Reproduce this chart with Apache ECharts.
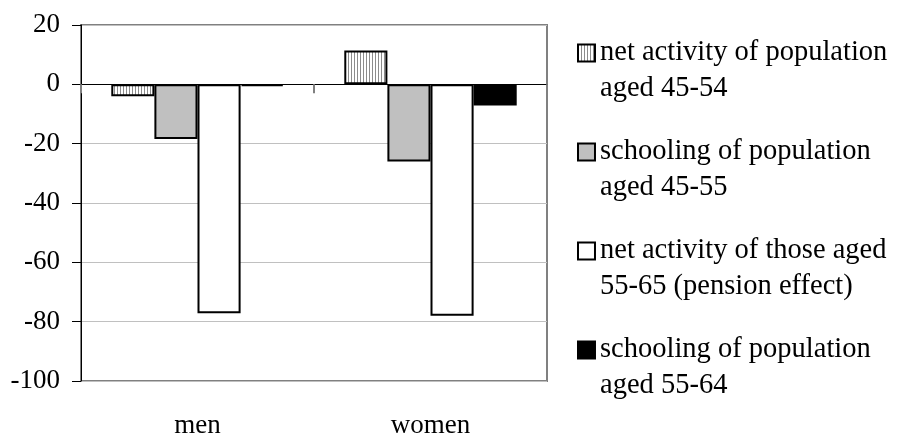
<!DOCTYPE html>
<html>
<head>
<meta charset="utf-8">
<script src="https://cdn.jsdelivr.net/npm/echarts@6/dist/echarts.min.js"></script>
<style>
html,body{margin:0;padding:0;background:#fff;}
#chart{width:903px;height:439px;}
</style>
</head>
<body>
<div id="chart"></div>
<script>
var categories = ['men', 'women'];
var seriesNames = [
  'net activity of population\naged 45-54',
  'schooling of population\naged 45-55',
  'net activity of those aged\n55-65 (pension effect)',
  'schooling of population\naged 55-64'
];
var netActivity4554 = [-4.0, 11.4];
var schooling4555 = [-18.4, -26.0];
var netActivity5565 = [-77.2, -78.0];
var schooling5564 = [-0.6, -7.1];
var yTicks = [-100, -80, -60, -40, -20, 0, 20];

var hatch = document.createElement('canvas');
hatch.width = 3; hatch.height = 3;
var hctx = hatch.getContext('2d');
hctx.fillStyle = '#ffffff'; hctx.fillRect(0, 0, 3, 3);
hctx.fillStyle = '#8c8c8c'; hctx.fillRect(0, 0, 1, 3);

var fills = [{image: hatch, repeat: 'repeat'}, '#c0c0c0', '#ffffff', '#000000'];
var values = [netActivity4554, schooling4555, netActivity5565, schooling5564];
var serif = 'Liberation Serif';

var chart = echarts.init(document.getElementById('chart'), null, {renderer: 'canvas'});
chart.setOption({
  animation: false,
  backgroundColor: '#ffffff',
  grid: {left: 81, right: 356, top: 25, bottom: 53, show: true, borderColor: '#808080', borderWidth: 2, backgroundColor: 'transparent'},
  legend: {
    orient: 'vertical', left: 577, top: 35, itemGap: 27,
    itemWidth: 17, itemHeight: 53, padding: 0,
    icon: 'path://M0,0H10V10H0Z M0,31.2L0,31.2',
    textStyle: {fontFamily: serif, fontSize: 28.5, lineHeight: 36, color: '#000'},
    data: seriesNames
  },
  xAxis: [{
    type: 'category', data: categories, position: 'bottom',
    axisLine: {show: false, onZero: false},
    axisTick: {show: false},
    axisLabel: {fontFamily: serif, fontSize: 27, color: '#000', margin: 31},
    splitLine: {show: false}
  }, {
    type: 'category', data: categories, position: 'bottom',
    axisLine: {show: true, onZero: true, lineStyle: {color: '#000', width: 1}},
    axisTick: {show: true, length: 9, lineStyle: {color: '#808080', width: 2}},
    axisLabel: {show: false},
    splitLine: {show: false}
  }],
  yAxis: {
    type: 'value', min: yTicks[0], max: yTicks[yTicks.length - 1], interval: 20,
    axisLine: {show: true, lineStyle: {color: '#000', width: 1}},
    axisTick: {show: true, length: 9, lineStyle: {color: '#000'}},
    axisLabel: {fontFamily: serif, fontSize: 27, color: '#000', margin: 21},
    splitLine: {show: true, lineStyle: {color: '#c0c0c0', width: 1}}
  },
  series: seriesNames.map(function (name, i) {
    return {
      name: name, type: 'bar', xAxisIndex: 0,
      data: values[i],
      barGap: '0%', barCategoryGap: '26%',
      itemStyle: {color: fills[i], borderColor: '#000', borderWidth: 2},
      emphasis: {disabled: true}
    };
  })
});
</script>
</body>
</html>
